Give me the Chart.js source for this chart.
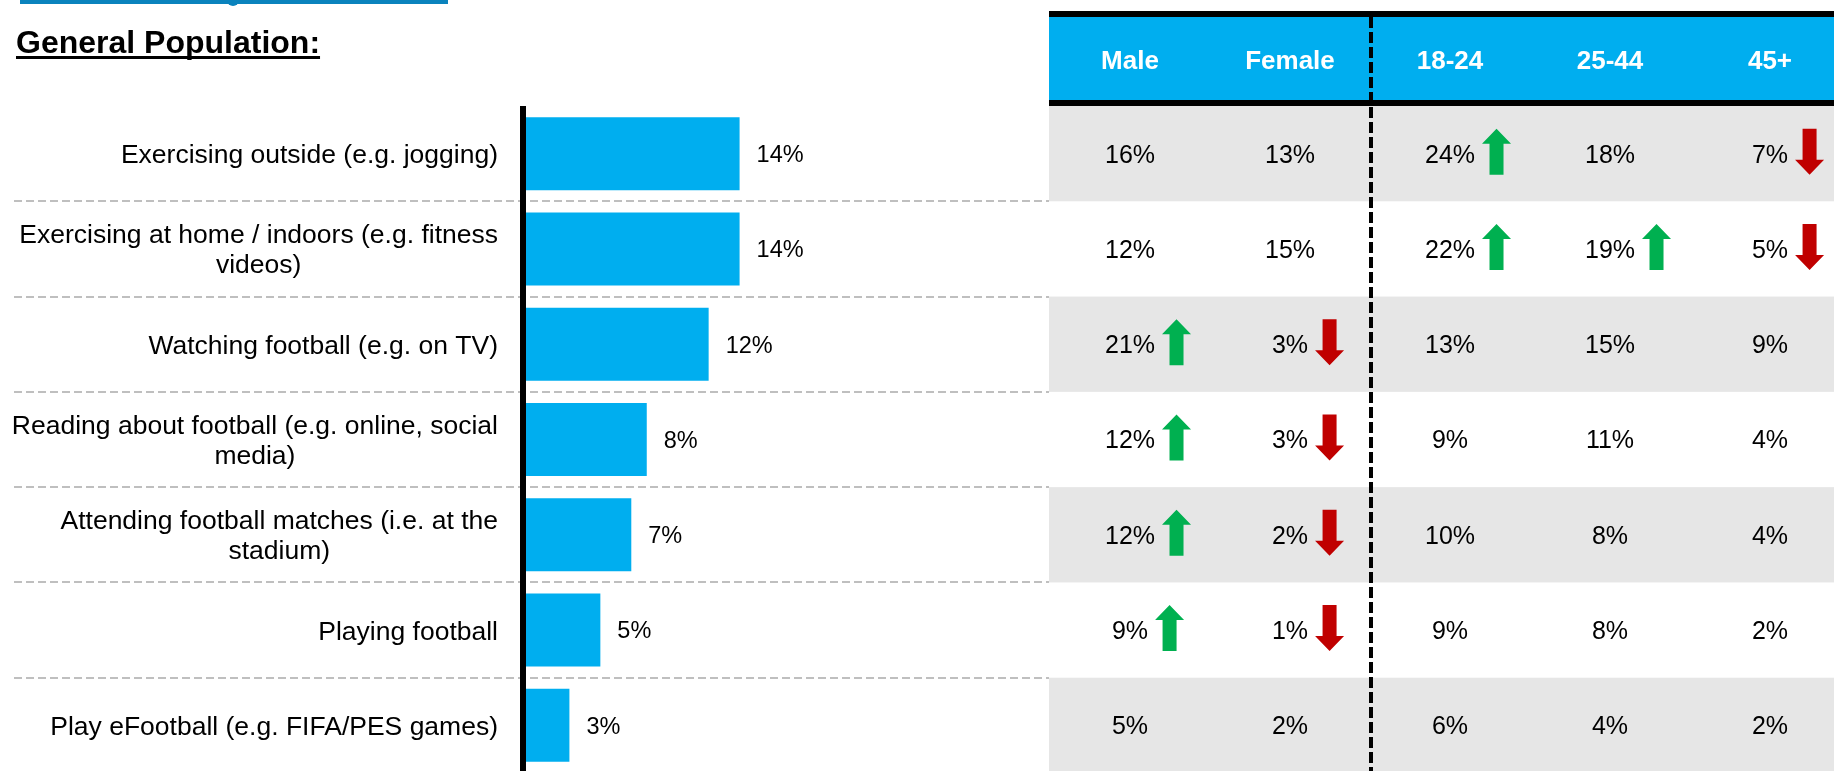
<!DOCTYPE html>
<html>
<head>
<meta charset="utf-8">
<script src="https://cdn.jsdelivr.net/npm/chart.js@4.4.1/dist/chart.umd.min.js"></script>
<style>
  html, body { margin: 0; padding: 0; overflow: hidden; background: #fff; }
  #wrap { position: relative; width: 1834px; height: 776px; }
</style>
</head>
<body>
<div id="wrap"><canvas id="c" width="1834" height="776"></canvas></div>
<script>
// Activities (wrapped label lines)
const categories = [
  ['Exercising outside (e.g. jogging)'],
  ['Exercising at home / indoors (e.g. fitness', 'videos)'],
  ['Watching football (e.g. on TV)'],
  ['Reading about football (e.g. online, social', 'media)'],
  ['Attending football matches (i.e. at the', 'stadium)'],
  ['Playing football'],
  ['Play eFootball (e.g. FIFA/PES games)']
];

// General population share, %
const generalPopulation = [14, 14, 12, 8, 7, 5, 3];

// Breakdown table
const tableHeaders = ['Male', 'Female', '18-24', '25-44', '45+'];
const male      = [16, 12, 21, 12, 12, 9, 5];
const female    = [13, 15, 3, 3, 2, 1, 2];
const age18to24 = [24, 22, 13, 9, 10, 9, 6];
const age25to44 = [18, 19, 15, 11, 8, 8, 4];
const age45plus = [7, 5, 9, 4, 4, 2, 2];

// Significant differences vs. total: 'up', 'down' or ''
const maleSig      = ['', '', 'up', 'up', 'up', 'up', ''];
const femaleSig    = ['', '', 'down', 'down', 'down', 'down', ''];
const age18to24Sig = ['up', 'up', '', '', '', '', ''];
const age25to44Sig = ['', 'up', '', '', '', '', ''];
const age45plusSig = ['down', 'down', '', '', '', '', ''];

const columns = [
  { values: male, sig: maleSig },
  { values: female, sig: femaleSig },
  { values: age18to24, sig: age18to24Sig },
  { values: age25to44, sig: age25to44Sig },
  { values: age45plus, sig: age45plusSig }
];

const FONT = '"Liberation Sans", Arial, Helvetica, sans-serif';
const BLUE = '#00AEEF';
const CAP = 0.716;

function drawArrow(ctx, x, cy, dir) {
  const w = 29, h = 46, sw = 14, hh = 15;
  const cx = x + w / 2, top = cy - h / 2, bot = cy + h / 2;
  ctx.beginPath();
  if (dir === 'up') {
    ctx.moveTo(cx, top);
    ctx.lineTo(x + w, top + hh);
    ctx.lineTo(cx + sw / 2, top + hh);
    ctx.lineTo(cx + sw / 2, bot);
    ctx.lineTo(cx - sw / 2, bot);
    ctx.lineTo(cx - sw / 2, top + hh);
    ctx.lineTo(x, top + hh);
    ctx.fillStyle = '#00B050';
  } else {
    ctx.moveTo(cx, bot);
    ctx.lineTo(x + w, bot - hh);
    ctx.lineTo(cx + sw / 2, bot - hh);
    ctx.lineTo(cx + sw / 2, top);
    ctx.lineTo(cx - sw / 2, top);
    ctx.lineTo(cx - sw / 2, bot - hh);
    ctx.lineTo(x, bot - hh);
    ctx.fillStyle = '#C00000';
  }
  ctx.closePath();
  ctx.fill();
}

function bandEdges(yScale, n, area) {
  const edges = [area.top];
  for (let i = 1; i < n; i++) {
    edges.push((yScale.getPixelForValue(i - 1) + yScale.getPixelForValue(i)) / 2);
  }
  edges.push(area.bottom);
  return edges;
}

const panelPlugin = {
  id: 'panel',
  beforeDatasetsDraw(chart) {
    const { ctx, chartArea, scales: { y } } = chart;
    const edges = bandEdges(y, categories.length, chartArea);
    ctx.save();
    ctx.strokeStyle = '#BFBFBF';
    ctx.lineWidth = 2;
    ctx.setLineDash([8, 4]);
    for (let i = 1; i < edges.length - 1; i++) {
      const yy = Math.round(edges[i]);
      ctx.beginPath();
      ctx.moveTo(14, yy);
      ctx.lineTo(chartArea.right, yy);
      ctx.stroke();
    }
    ctx.restore();
  },
  afterDatasetsDraw(chart) {
    // Vertical baseline at zero, over the bar roots
    const { ctx, chartArea, scales: { x } } = chart;
    const x0 = x.getPixelForValue(0);
    ctx.save();
    ctx.fillStyle = '#000';
    ctx.fillRect(x0 - 3, chartArea.top, 6, chartArea.bottom - chartArea.top);
    ctx.restore();
  },
  afterDraw(chart) {
    const { ctx, chartArea, scales: { x, y } } = chart;
    ctx.save();

    // Top accent line
    ctx.fillStyle = '#0A83BD';
    ctx.fillRect(20, 0, 428, 4);
    ctx.beginPath();
    ctx.arc(233, 0, 6, 0, Math.PI * 2);
    ctx.fill();

    // Section title
    ctx.fillStyle = '#000';
    ctx.font = `bold 32px ${FONT}`;
    ctx.textAlign = 'left';
    ctx.textBaseline = 'alphabetic';
    const title = 'General Population:';
    ctx.fillText(title, 16, 53);
    const tw = ctx.measureText(title).width;
    ctx.fillRect(16, 56, tw, 3);

    // Category labels: block right-aligned, lines centred within block
    const labelSize = 26.5;
    ctx.font = `${labelSize}px ${FONT}`;
    ctx.textAlign = 'center';
    categories.forEach((lines, i) => {
      const cy = y.getPixelForValue(i);
      const bw = Math.max(...lines.map(l => ctx.measureText(l).width));
      const cx = 498 - bw / 2;
      lines.forEach((l, j) => {
        const ly = cy + (j - (lines.length - 1) / 2) * 30;
        ctx.fillText(l, cx, ly + CAP * labelSize / 2);
      });
    });

    // Bar value labels
    const valSize = 23.5;
    ctx.font = `${valSize}px ${FONT}`;
    ctx.textAlign = 'left';
    generalPopulation.forEach((v, i) => {
      ctx.fillText(v + '%', x.getPixelForValue(v) + 17, y.getPixelForValue(i) + CAP * valSize / 2);
    });

    // Breakdown table
    const left = chartArea.right, right = chart.width;
    const edges = bandEdges(y, categories.length, chartArea);
    ctx.fillStyle = '#000';
    ctx.fillRect(left, 11, right - left, 6);
    ctx.fillStyle = BLUE;
    ctx.fillRect(left, 17, right - left, 83);
    ctx.fillStyle = '#000';
    ctx.fillRect(left, 100, right - left, 6);
    for (let i = 0; i < categories.length; i++) {
      if (i % 2 === 0) {
        ctx.fillStyle = '#E6E6E6';
        ctx.fillRect(left, edges[i], right - left, edges[i + 1] - edges[i]);
      }
    }

    const colX = [1130, 1290, 1450, 1610, 1770];
    ctx.textAlign = 'center';
    ctx.fillStyle = '#fff';
    ctx.font = `bold 26px ${FONT}`;
    tableHeaders.forEach((h, c) => ctx.fillText(h, colX[c], 59.5 + CAP * 26 / 2));

    const cellSize = 25;
    ctx.font = `${cellSize}px ${FONT}`;
    columns.forEach((col, c) => {
      col.values.forEach((v, i) => {
        const cy = y.getPixelForValue(i);
        const txt = v + '%';
        ctx.fillStyle = '#000';
        ctx.fillText(txt, colX[c], cy + CAP * cellSize / 2);
        if (col.sig[i]) {
          const w = ctx.measureText(txt).width;
          drawArrow(ctx, colX[c] + w / 2 + 7, cy - 2, col.sig[i]);
        }
      });
    });

    // Divider between gender and age groups
    ctx.strokeStyle = '#000';
    ctx.lineWidth = 4;
    ctx.setLineDash([11, 4]);
    ctx.beginPath();
    ctx.moveTo(1371, 17);
    ctx.lineTo(1371, chart.height);
    ctx.stroke();

    ctx.restore();
  }
};

new Chart(document.getElementById('c'), {
  type: 'bar',
  data: {
    labels: categories.map(l => l.join(' ')),
    datasets: [{
      data: generalPopulation,
      backgroundColor: BLUE,
      borderWidth: 0,
      categoryPercentage: 1,
      barPercentage: 0.766
    }]
  },
  options: {
    indexAxis: 'y',
    responsive: false,
    animation: false,
    devicePixelRatio: 1,
    layout: { padding: { top: 106, right: 785, bottom: 3, left: 0 } },
    plugins: {
      legend: { display: false },
      tooltip: { enabled: false },
      title: { display: false }
    },
    scales: {
      x: { display: false, min: 0, max: 34 },
      y: {
        grid: { display: false, drawTicks: false },
        ticks: { display: false },
        border: { display: false },
        afterFit(scale) { scale.width = 523; }
      }
    }
  },
  plugins: [panelPlugin]
});
</script>
</body>
</html>
